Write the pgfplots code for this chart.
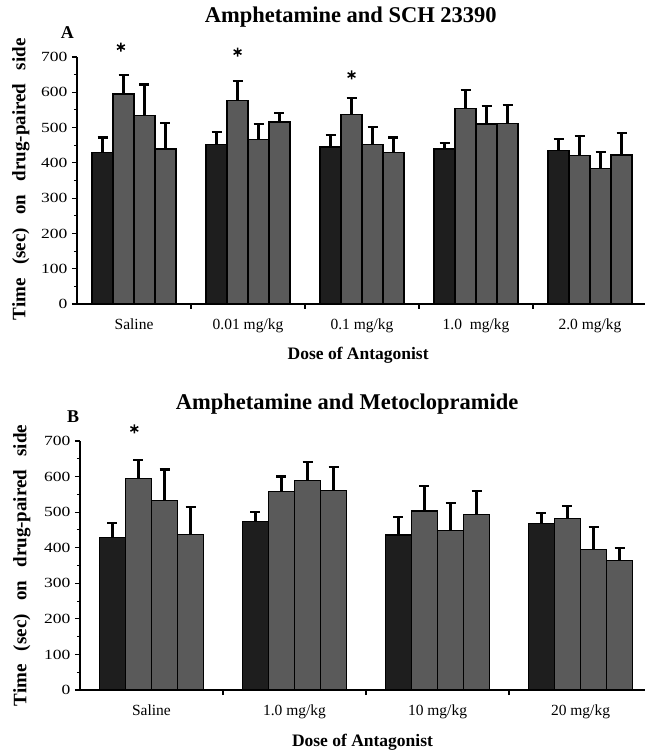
\documentclass[border=0pt]{standalone}
\usepackage{fontspec}
\setmainfont{Liberation Serif}
\newfontfamily\tickfont[FakeStretch=1.25]{Liberation Serif}
\usepackage{pgfplots}
\pgfplotsset{compat=1.18}
\definecolor{barDark}{HTML}{1E1E1E}
\definecolor{barMid}{HTML}{5A5A5A}

\pgfplotsset{
  panel/.style={
    scale only axis, clip=false,
    axis x line=bottom, axis y line=left,
    axis line style={-, line width=1.4pt, black},
    ymin=0, ymax=700, ytick={0,100,...,700}, minor y tick num=1,
    tick align=outside, major tick length=5pt, minor tick length=3pt,
    tick style={line width=1.1pt, black},
    /pgf/number format/assume math mode=true,
    yticklabel style={font=\tickfont\fontsize{14}{14}\selectfont, xshift=-1pt},
    xticklabels={},
    xticklabel style={font=\fontsize{15.5}{15.5}\selectfont, yshift=-11pt},
    extra x tick style={major tick length=0pt, tick style={draw=none}},
    ylabel style={font=\bfseries\fontsize{19}{19}\selectfont, anchor=center},
    xlabel style={font=\bfseries\fontsize{17.5}{17.5}\selectfont, anchor=center},
    title style={font=\bfseries\fontsize{22.5}{22.5}\selectfont, anchor=center},
    ylabel={Time\hspace{0.7em}(sec)\hspace{0.7em}on\hspace{0.7em}drug-paired\hspace{0.7em}side},
    xlabel={Dose of Antagonist},
  },
  errstyle/.style={
    error bars/y dir=plus, error bars/y explicit, error bars/error mark=-,
    error bars/error bar style={line width=2.2pt, black},
    error bars/error mark options={rotate=90, mark size=5pt, line width=2.2pt, black}},
  barA/.style={ybar, bar width=0.184, bar shift=0pt, draw=black, line width=1.2pt, errstyle},
  barB/.style={ybar, bar width=0.182, bar shift=0pt, draw=black, line width=1.2pt, errstyle},
  star/.style={only marks, mark=asterisk, mark size=4.5pt, line width=1.5pt, black},
}

\begin{document}
\begin{tikzpicture}
\useasboundingbox (0,0) rectangle (645pt,753pt);

% ---------------- Panel A ----------------
\begin{axis}[panel,
  at={(77pt,449pt)}, anchor=south west,
  width=568pt, height=247pt,
  xmin=-0.5, xmax=4.482,
  xtick={0.5,1.5,2.5,3.5},
  extra x ticks={0,1,2,3,4},
  extra x tick labels={Saline,0.01 mg/kg,0.1 mg/kg,1.0\ \ mg/kg,2.0 mg/kg},
  ylabel style={at={(axis description cs:-0.0986,0.505)}},
  xlabel style={at={(axis description cs:0.495,0)}, yshift=-51pt},
  title={Amphetamine and SCH 23390},
  title style={at={(axis description cs:0.482,1.136)}},
]
\addplot[barA, fill=barDark] table[x=x, y=y, y error=e] {
x y e
-0.276 430 42
0.724 453 35
1.724 445 34
2.724 439 18
3.724 434 33
};
\addplot[barA, fill=barMid] table[x=x, y=y, y error=e] {
x y e
-0.092 595 54
0.908 576 57
1.908 538 45
2.908 553 53
3.908 421 55
};
\addplot[barA, fill=barMid] table[x=x, y=y, y error=e] {
x y e
0.092 534 88
1.092 467 43
2.092 453 49
3.092 510 51
4.092 384 46
};
\addplot[barA, fill=barMid] table[x=x, y=y, y error=e] {
x y e
0.276 439 75
1.276 516 26
2.276 430 42
3.276 512 52
4.276 422 62
};
\addplot[star] coordinates {(-0.115,728) (0.908,714) (1.908,649)};
\node[font=\bfseries\fontsize{18}{18}\selectfont] at (axis description cs:-0.017,1.10) {A};
\end{axis}

% ---------------- Panel B ----------------
\begin{axis}[panel,
  at={(80pt,63pt)}, anchor=south west,
  width=565pt, height=249pt,
  xmin=-0.5, xmax=3.451,
  xtick={0.5,1.5,2.5},
  extra x ticks={0,1,2,3},
  extra x tick labels={Saline,1.0 mg/kg,10 mg/kg,20 mg/kg},
  ylabel style={at={(axis description cs:-0.1027,0.5)}},
  xlabel style={at={(axis description cs:0.5,0)}, yshift=-52pt},
  title={Amphetamine and Metoclopramide},
  title style={at={(axis description cs:0.4726,1.1245)}},
]
\addplot[barB, fill=barDark] table[x=x, y=y, y error=e] {
x y e
-0.273 429 40
0.727 473 27
1.727 436 50
2.727 467 30
};
\addplot[barB, fill=barMid] table[x=x, y=y, y error=e] {
x y e
-0.091 594 53
0.909 558 42
1.909 503 71
2.909 483 35
};
\addplot[barB, fill=barMid] table[x=x, y=y, y error=e] {
x y e
0.091 532 88
1.091 588 54
2.091 448 77
3.091 396 63
};
\addplot[barB, fill=barMid] table[x=x, y=y, y error=e] {
x y e
0.273 438 76
1.273 560 66
2.273 494 66
3.273 364 36
};
\addplot[star] coordinates {(-0.12,734)};
\node[font=\bfseries\fontsize{18}{18}\selectfont] at (axis description cs:-0.012,1.096) {B};
\end{axis}
\end{tikzpicture}
\end{document}
